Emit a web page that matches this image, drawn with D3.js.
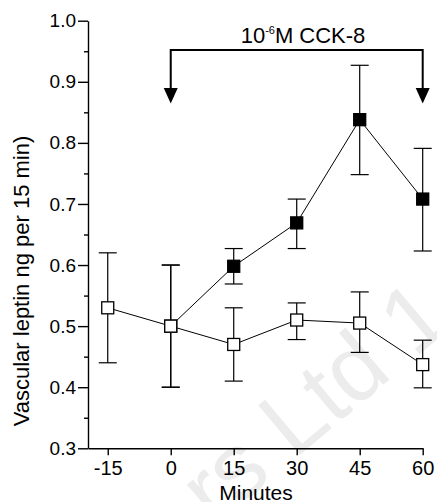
<!DOCTYPE html>
<html>
<head>
<meta charset="utf-8">
<script src="https://cdn.jsdelivr.net/npm/d3@7"></script>
<style>
  body { margin: 0; background: #fff; }
  svg { display: block; font-family: Arial, "Liberation Sans", Helvetica, sans-serif; }
</style>
</head>
<body>
<svg width="437" height="502"></svg>
<script>
// control group (open squares), -15 .. 60 min
const controlMinutes = [-15, 0, 15, 30, 45, 60];
const controlMean = [0.53, 0.50, 0.47, 0.51, 0.505, 0.437];
const controlLow = [0.44, 0.40, 0.41, 0.478, 0.457, 0.399];
const controlHigh = [0.62, 0.60, 0.53, 0.538, 0.556, 0.477];

// CCK-8 group (filled squares), starts from the shared 0 min point
const cckMinutes = [0, 15, 30, 45, 60];
const cckMean = [0.50, 0.598, 0.669, 0.838, 0.708];
const cckLow = [0.40, 0.569, 0.627, 0.748, 0.623];
const cckHigh = [0.60, 0.627, 0.708, 0.927, 0.791];

const xTicks = [-15, 0, 15, 30, 45, 60];
const yTicks = [0.3, 0.4, 0.5, 0.6, 0.7, 0.8, 0.9, 1.0];
const yMinorTicks = [0.35, 0.45, 0.55, 0.65, 0.75, 0.85, 0.95];
const treatment = [0, 60]; // CCK-8 infusion window, minutes

const svg = d3.select('svg');

const x = d3.scaleLinear().domain([-19.7, 60]).range([88, 422.7]);
const y = d3.scaleLinear().domain([0.3, 1.0]).range([448.3, 20.7]);

// faint watermark from the scanned page
svg.append('text')
  .attr('transform', 'translate(334,426) rotate(-40)')
  .attr('text-anchor', 'middle')
  .style('font-size', '94px')
  .style('fill', '#ececec')
  .text('rs Ltd 1');

// axes
const yAxis = svg.append('g')
  .attr('transform', 'translate(' + x(-19.7) + ',0)')
  .call(d3.axisLeft(y).tickValues(yTicks).tickFormat(d3.format('.1f'))
    .tickSize(10).tickSizeOuter(0).tickPadding(2));
yAxis.selectAll('text').style('font-size', '19px').attr('fill', '#000');

svg.append('g')
  .attr('transform', 'translate(' + x(-19.7) + ',0)')
  .call(d3.axisLeft(y).tickValues(yMinorTicks).tickFormat('')
    .tickSize(4).tickSizeOuter(0))
  .select('.domain').remove();

const xAxis = svg.append('g')
  .attr('transform', 'translate(0,' + y(0.3) + ')')
  .call(d3.axisBottom(x).tickValues(xTicks).tickSize(7).tickSizeOuter(0).tickPadding(6)
    .tickFormat(function (d) { return String(d); }));
xAxis.selectAll('text').style('font-size', '20px').attr('fill', '#000');

svg.selectAll('.domain, .tick line').attr('stroke', '#000').attr('stroke-width', 1.4);

// axis titles
svg.append('text')
  .attr('transform', 'translate(29,281) rotate(-90)')
  .attr('text-anchor', 'middle')
  .style('font-size', '22px')
  .text('Vascular leptin ng per 15 min)');

svg.append('text')
  .attr('x', 256)
  .attr('y', 500)
  .attr('text-anchor', 'middle')
  .style('font-size', '21px')
  .text('Minutes');

// treatment bracket with arrows
const bracketY = 50;
const arrowTop = 88;
const arrowTip = 103.5;
svg.append('path')
  .attr('d', d3.line()([
    [x(treatment[0]), arrowTop], [x(treatment[0]), bracketY],
    [x(treatment[1]), bracketY], [x(treatment[1]), arrowTop]
  ]))
  .attr('fill', 'none')
  .attr('stroke', '#000')
  .attr('stroke-width', 2);

svg.selectAll('.arrowhead')
  .data(treatment)
  .enter().append('path')
  .attr('class', 'arrowhead')
  .attr('d', function (d) {
    const cx = x(d);
    return 'M' + (cx - 7) + ',' + arrowTop + 'L' + (cx + 7) + ',' + arrowTop + 'L' + cx + ',' + arrowTip + 'Z';
  })
  .attr('fill', '#000');

const label = svg.append('text')
  .attr('x', 303)
  .attr('y', 43)
  .attr('text-anchor', 'middle')
  .style('font-size', '22px');
label.append('tspan').text('10');
label.append('tspan').attr('dy', -9).style('font-size', '11px').text('-6');
label.append('tspan').attr('dy', 9).text('M CCK-8');

// series
function drawSeries(minutes, mean, low, high, fill) {
  const pts = minutes.map(function (m, i) {
    return { m: m, v: mean[i], lo: low[i], hi: high[i] };
  });

  const g = svg.append('g');

  g.append('path')
    .datum(pts)
    .attr('d', d3.line().x(function (d) { return x(d.m); }).y(function (d) { return y(d.v); }))
    .attr('fill', 'none')
    .attr('stroke', '#000')
    .attr('stroke-width', 1);

  const bars = g.selectAll('.err')
    .data(pts)
    .enter().append('g')
    .attr('class', 'err')
    .attr('stroke', '#000')
    .attr('stroke-width', 1.2);

  bars.append('line')
    .attr('x1', function (d) { return x(d.m); })
    .attr('x2', function (d) { return x(d.m); })
    .attr('y1', function (d) { return y(d.lo); })
    .attr('y2', function (d) { return y(d.hi); });

  ['lo', 'hi'].forEach(function (k) {
    bars.append('line')
      .attr('x1', function (d) { return x(d.m) - 9; })
      .attr('x2', function (d) { return x(d.m) + 9; })
      .attr('y1', function (d) { return y(d[k]); })
      .attr('y2', function (d) { return y(d[k]); });
  });

  g.selectAll('rect')
    .data(pts)
    .enter().append('rect')
    .attr('x', function (d) { return x(d.m) - 6; })
    .attr('y', function (d) { return y(d.v) - 6; })
    .attr('width', 12)
    .attr('height', 12)
    .attr('fill', fill)
    .attr('stroke', '#000')
    .attr('stroke-width', 1.3);
}

drawSeries(cckMinutes, cckMean, cckLow, cckHigh, '#000');
drawSeries(controlMinutes, controlMean, controlLow, controlHigh, '#fff');
</script>
</body>
</html>
